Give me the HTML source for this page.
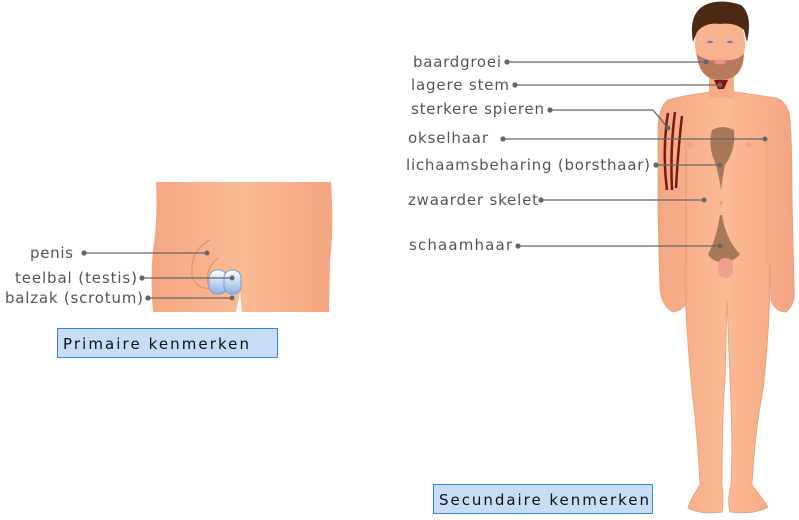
<!DOCTYPE html>
<html><head><meta charset="utf-8"><style>
html,body{margin:0;padding:0;background:#fff;}
svg{display:block;}
text{font-family:"DejaVu Sans","Liberation Sans",sans-serif;font-size:15px;fill:#555;}
</style></head><body>
<svg width="799" height="520" viewBox="0 0 799 520" xmlns="http://www.w3.org/2000/svg">
<defs>
<linearGradient id="sk" x1="0" x2="1" y1="0" y2="0">
<stop offset="0" stop-color="#f4a682"/><stop offset="0.5" stop-color="#fbbb95"/><stop offset="1" stop-color="#f4a480"/>
</linearGradient>
<linearGradient id="ts" x1="0" x2="0" y1="0" y2="1">
<stop offset="0" stop-color="#ffffff"/><stop offset="1" stop-color="#8fb0e8"/>
</linearGradient>
</defs>
<!-- left figure -->
<path d="M156,182 L331,182 Q334,230 330,260 L329,312 L242,312 L240,292 L236,312 L153,312 Q150,280 153,250 Q158,220 156,182 Z" fill="url(#sk)"/>
<path d="M210,240 Q190,250 192,275 Q196,290 210,288" fill="none" stroke="#d8906e" stroke-width="1"/>
<path d="M218,258 Q205,268 208,285" fill="none" stroke="#d8906e" stroke-width="1"/>
<rect x="209" y="270" width="18" height="24" rx="8" fill="url(#ts)" stroke="#7f9cc8"/>
<rect x="224" y="270" width="17" height="24" rx="8" fill="url(#ts)" stroke="#7f9cc8"/>
<g stroke="#666" stroke-width="1.3" fill="#666">
<line x1="84" y1="253" x2="207" y2="253"/><circle cx="84" cy="253" r="2"/><circle cx="207" cy="253" r="1.8"/>
<line x1="142" y1="278" x2="232" y2="278"/><circle cx="142" cy="278" r="2"/><circle cx="232" cy="278" r="1.8"/>
<line x1="148" y1="298" x2="232" y2="298"/><circle cx="148" cy="298" r="2"/><circle cx="232" cy="298" r="1.8"/>
</g>
<text x="30" y="258" textLength="43">penis</text>
<text x="15" y="283" textLength="122">teelbal (testis)</text>
<text x="5" y="303" textLength="138">balzak (scrotum)</text>
<rect x="57.5" y="328.5" width="220" height="29" fill="#c6dcf7" stroke="#3a86e0"/>
<text x="63" y="349" style="fill:#111" textLength="186">Primaire kenmerken</text>

<!-- man -->
<path d="M710,92 Q680,96 668,100 Q658,108 658,130 L658,210 Q659,260 660,285 Q660,305 673,312 Q686,310 687,298 L686,260 Q684,265 684,270 Q686,330 692,390 Q698,440 700,485 Q690,500 688,508 Q700,515 722,512 Q724,495 722,485 Q722,420 725,380 L727,300 L730,380 Q733,440 731,485 Q727,500 730,512 Q755,515 768,507 Q760,495 752,485 Q755,430 763,390 Q770,330 770,270 L770,260 L771,300 Q775,312 786,312 Q796,305 794,285 L792,200 Q792,130 789,112 Q784,100 776,98 Q750,94 735,92 Z" fill="url(#sk)" stroke="#e79d7a" stroke-width="0.8"/>
<line x1="686" y1="140" x2="686" y2="262" stroke="#e39a76" stroke-width="0.8"/>
<line x1="767" y1="140" x2="767" y2="262" stroke="#e39a76" stroke-width="0.8"/>
<!-- neck and head -->
<rect x="709" y="70" width="25" height="28" fill="#f5ab86"/>
<ellipse cx="720" cy="44" rx="25" ry="35" fill="#f7b28e"/>
<path d="M697,54 Q699,80 720,80 Q743,80 744,54 Q735,62 720,60 Q706,62 697,54 Z" fill="#b77a5c"/>
<ellipse cx="720" cy="62" rx="6" ry="2.5" fill="#e9968a"/>
<path d="M693,42 Q688,14 705,5 Q720,-2 741,5 Q753,15 747,42 L744,30 Q735,22 720,24 Q705,22 697,32 Z" fill="#4a2a14"/>
<ellipse cx="710" cy="42" rx="3" ry="1.2" fill="#6a7ec0"/><ellipse cx="730" cy="42" rx="3" ry="1.2" fill="#6a7ec0"/>
<path d="M714,80 L728,80 L724,89 L718,89 Z" fill="#8a1010"/>
<!-- muscles -->
<g stroke="#7a1a10" stroke-width="2.5" fill="none">
<path d="M668,113 Q662,150 667,190"/><path d="M675,112 Q670,150 672,190"/><path d="M682,116 Q678,150 676,188"/>
</g>
<!-- hair -->
<path d="M712,130 Q722,124 734,130 Q736,150 725,165 Q722,180 721,190 Q718,170 714,160 Q708,145 712,130 Z" fill="#a8785a"/>
<circle cx="690" cy="145" r="2.5" fill="#f59a9a"/><circle cx="749" cy="145" r="2.5" fill="#f59a9a"/>
<circle cx="721" cy="203" r="1.5" fill="#e59a7a"/>
<path d="M720,215 Q716,240 708,254 Q712,262 722,262 Q734,262 740,254 Q726,240 722,215 Z" fill="#a8785a"/>
<rect x="718" y="258" width="15" height="20" rx="7" fill="#f2a08c"/>
<!-- connectors -->
<g stroke="#666" stroke-width="1.3" fill="#666">
<line x1="507" y1="62" x2="706" y2="62"/><circle cx="507" cy="62" r="2"/><circle cx="706" cy="62" r="1.8"/>
<line x1="515" y1="85" x2="720" y2="85"/><circle cx="515" cy="85" r="2"/><circle cx="720" cy="85" r="1.8"/>
<polyline points="550,110 653,110 668,128" fill="none"/><circle cx="550" cy="110" r="2"/><circle cx="668" cy="128" r="1.8"/>
<line x1="503" y1="139" x2="765" y2="139"/><circle cx="503" cy="139" r="2"/><circle cx="765" cy="139" r="1.8"/>
<line x1="656" y1="165" x2="720" y2="165"/><circle cx="656" cy="165" r="2"/><circle cx="720" cy="165" r="1.8"/>
<line x1="541" y1="200" x2="704" y2="200"/><circle cx="541" cy="200" r="2"/><circle cx="704" cy="200" r="1.8"/>
<line x1="518" y1="246" x2="720" y2="246"/><circle cx="518" cy="246" r="2"/><circle cx="720" cy="246" r="1.8"/>
</g>
<text x="413" y="67" textLength="88">baardgroei</text>
<text x="411" y="90" textLength="98">lagere stem</text>
<text x="411" y="114" textLength="133">sterkere spieren</text>
<text x="408" y="143" textLength="80">okselhaar</text>
<text x="406" y="170" textLength="244">lichaamsbeharing (borsthaar)</text>
<text x="408" y="205" textLength="130">zwaarder skelet</text>
<text x="409" y="250" textLength="103">schaamhaar</text>
<rect x="433.5" y="484.5" width="219" height="29" fill="#c6dcf7" stroke="#3a86e0"/>
<text x="439" y="505" style="fill:#111" textLength="210">Secundaire kenmerken</text>
</svg>
</body></html>
